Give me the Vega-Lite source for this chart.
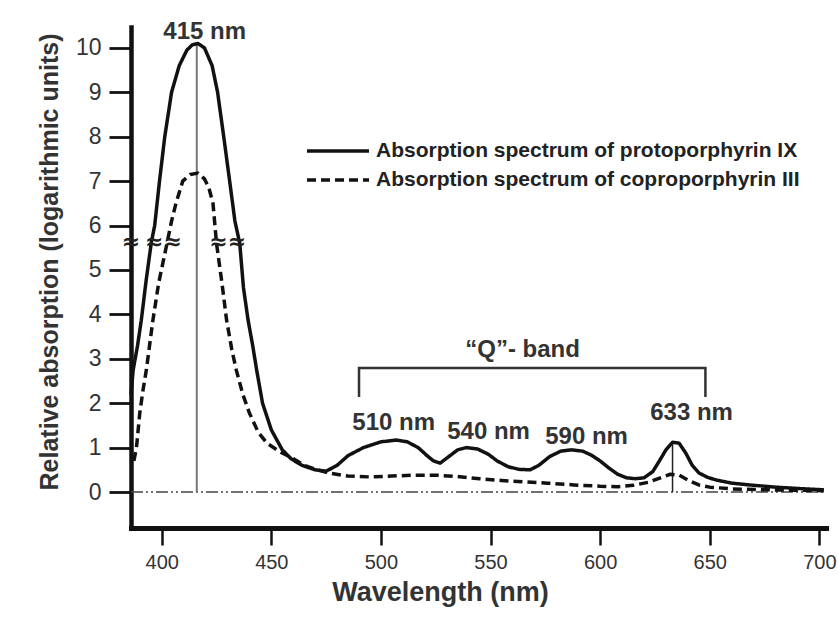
{
  "$schema": "https://vega.github.io/schema/vega-lite/v6.json",
  "width": 695,
  "height": 501,
  "autosize": {"type": "none"},
  "padding": {"left": 131, "top": 27, "right": 12, "bottom": 99},
  "background": "white",
  "config": {
    "view": {"stroke": null},
    "font": "Liberation Sans",
    "legend": {
      "orient": "none",
      "legendX": 174,
      "legendY": 113,
      "padding": 0,
      "symbolType": "stroke",
      "symbolSize": 3844,
      "symbolStrokeWidth": 3.5,
      "symbolStrokeColor": "#111",
      "labelFont": "Liberation Sans",
      "labelFontWeight": "bold",
      "labelFontSize": 21,
      "labelColor": "#222",
      "labelLimit": 800,
      "labelOffset": 5,
      "clipHeight": 22,
      "rowPadding": 7
    }
  },
  "datasets": {
    "spectra": [
      {"s": "Absorption spectrum of protoporphyrin IX", "nm": 386, "v": 2.2},
      {"s": "Absorption spectrum of protoporphyrin IX", "nm": 387, "v": 2.75},
      {"s": "Absorption spectrum of protoporphyrin IX", "nm": 389, "v": 3.3},
      {"s": "Absorption spectrum of protoporphyrin IX", "nm": 390.7, "v": 3.87},
      {"s": "Absorption spectrum of protoporphyrin IX", "nm": 393, "v": 4.8},
      {"s": "Absorption spectrum of protoporphyrin IX", "nm": 395.3, "v": 5.63},
      {"s": "Absorption spectrum of protoporphyrin IX", "nm": 396.8, "v": 6.0},
      {"s": "Absorption spectrum of protoporphyrin IX", "nm": 399, "v": 7.0},
      {"s": "Absorption spectrum of protoporphyrin IX", "nm": 401.4, "v": 8.0},
      {"s": "Absorption spectrum of protoporphyrin IX", "nm": 404.5, "v": 9.0},
      {"s": "Absorption spectrum of protoporphyrin IX", "nm": 408, "v": 9.6},
      {"s": "Absorption spectrum of protoporphyrin IX", "nm": 411.5, "v": 9.95},
      {"s": "Absorption spectrum of protoporphyrin IX", "nm": 414, "v": 10.07},
      {"s": "Absorption spectrum of protoporphyrin IX", "nm": 416.5, "v": 10.1},
      {"s": "Absorption spectrum of protoporphyrin IX", "nm": 419.5, "v": 10.0},
      {"s": "Absorption spectrum of protoporphyrin IX", "nm": 423, "v": 9.6},
      {"s": "Absorption spectrum of protoporphyrin IX", "nm": 425.5, "v": 9.0},
      {"s": "Absorption spectrum of protoporphyrin IX", "nm": 428.3, "v": 8.0},
      {"s": "Absorption spectrum of protoporphyrin IX", "nm": 431, "v": 7.0},
      {"s": "Absorption spectrum of protoporphyrin IX", "nm": 433.4, "v": 6.1},
      {"s": "Absorption spectrum of protoporphyrin IX", "nm": 435.6, "v": 5.6},
      {"s": "Absorption spectrum of protoporphyrin IX", "nm": 437.3, "v": 4.6},
      {"s": "Absorption spectrum of protoporphyrin IX", "nm": 439.4, "v": 3.87},
      {"s": "Absorption spectrum of protoporphyrin IX", "nm": 441.5, "v": 3.3},
      {"s": "Absorption spectrum of protoporphyrin IX", "nm": 443.3, "v": 2.75},
      {"s": "Absorption spectrum of protoporphyrin IX", "nm": 446, "v": 2.0},
      {"s": "Absorption spectrum of protoporphyrin IX", "nm": 450, "v": 1.4},
      {"s": "Absorption spectrum of protoporphyrin IX", "nm": 455, "v": 0.95},
      {"s": "Absorption spectrum of protoporphyrin IX", "nm": 459, "v": 0.75},
      {"s": "Absorption spectrum of protoporphyrin IX", "nm": 464, "v": 0.6},
      {"s": "Absorption spectrum of protoporphyrin IX", "nm": 470, "v": 0.5},
      {"s": "Absorption spectrum of protoporphyrin IX", "nm": 475, "v": 0.47},
      {"s": "Absorption spectrum of protoporphyrin IX", "nm": 480, "v": 0.6},
      {"s": "Absorption spectrum of protoporphyrin IX", "nm": 485, "v": 0.82},
      {"s": "Absorption spectrum of protoporphyrin IX", "nm": 492, "v": 1.0},
      {"s": "Absorption spectrum of protoporphyrin IX", "nm": 500, "v": 1.13},
      {"s": "Absorption spectrum of protoporphyrin IX", "nm": 507, "v": 1.17},
      {"s": "Absorption spectrum of protoporphyrin IX", "nm": 512, "v": 1.13},
      {"s": "Absorption spectrum of protoporphyrin IX", "nm": 517, "v": 1.0},
      {"s": "Absorption spectrum of protoporphyrin IX", "nm": 521, "v": 0.82},
      {"s": "Absorption spectrum of protoporphyrin IX", "nm": 524, "v": 0.7},
      {"s": "Absorption spectrum of protoporphyrin IX", "nm": 527, "v": 0.65},
      {"s": "Absorption spectrum of protoporphyrin IX", "nm": 531, "v": 0.8},
      {"s": "Absorption spectrum of protoporphyrin IX", "nm": 535, "v": 0.95},
      {"s": "Absorption spectrum of protoporphyrin IX", "nm": 539, "v": 1.0},
      {"s": "Absorption spectrum of protoporphyrin IX", "nm": 544, "v": 0.97},
      {"s": "Absorption spectrum of protoporphyrin IX", "nm": 549, "v": 0.85},
      {"s": "Absorption spectrum of protoporphyrin IX", "nm": 553, "v": 0.7},
      {"s": "Absorption spectrum of protoporphyrin IX", "nm": 558, "v": 0.57},
      {"s": "Absorption spectrum of protoporphyrin IX", "nm": 563, "v": 0.51},
      {"s": "Absorption spectrum of protoporphyrin IX", "nm": 568, "v": 0.5},
      {"s": "Absorption spectrum of protoporphyrin IX", "nm": 572, "v": 0.6},
      {"s": "Absorption spectrum of protoporphyrin IX", "nm": 577, "v": 0.8},
      {"s": "Absorption spectrum of protoporphyrin IX", "nm": 582, "v": 0.92},
      {"s": "Absorption spectrum of protoporphyrin IX", "nm": 587, "v": 0.95},
      {"s": "Absorption spectrum of protoporphyrin IX", "nm": 592, "v": 0.92},
      {"s": "Absorption spectrum of protoporphyrin IX", "nm": 596, "v": 0.83},
      {"s": "Absorption spectrum of protoporphyrin IX", "nm": 600, "v": 0.7},
      {"s": "Absorption spectrum of protoporphyrin IX", "nm": 604, "v": 0.54},
      {"s": "Absorption spectrum of protoporphyrin IX", "nm": 608, "v": 0.4},
      {"s": "Absorption spectrum of protoporphyrin IX", "nm": 612, "v": 0.32},
      {"s": "Absorption spectrum of protoporphyrin IX", "nm": 616, "v": 0.3},
      {"s": "Absorption spectrum of protoporphyrin IX", "nm": 620, "v": 0.32},
      {"s": "Absorption spectrum of protoporphyrin IX", "nm": 624, "v": 0.46},
      {"s": "Absorption spectrum of protoporphyrin IX", "nm": 627, "v": 0.7},
      {"s": "Absorption spectrum of protoporphyrin IX", "nm": 630, "v": 0.95},
      {"s": "Absorption spectrum of protoporphyrin IX", "nm": 633, "v": 1.12},
      {"s": "Absorption spectrum of protoporphyrin IX", "nm": 636, "v": 1.1},
      {"s": "Absorption spectrum of protoporphyrin IX", "nm": 639, "v": 0.88},
      {"s": "Absorption spectrum of protoporphyrin IX", "nm": 642, "v": 0.6},
      {"s": "Absorption spectrum of protoporphyrin IX", "nm": 645, "v": 0.43},
      {"s": "Absorption spectrum of protoporphyrin IX", "nm": 649, "v": 0.33},
      {"s": "Absorption spectrum of protoporphyrin IX", "nm": 653, "v": 0.27},
      {"s": "Absorption spectrum of protoporphyrin IX", "nm": 660, "v": 0.2},
      {"s": "Absorption spectrum of protoporphyrin IX", "nm": 668, "v": 0.16},
      {"s": "Absorption spectrum of protoporphyrin IX", "nm": 680, "v": 0.11},
      {"s": "Absorption spectrum of protoporphyrin IX", "nm": 690, "v": 0.08},
      {"s": "Absorption spectrum of protoporphyrin IX", "nm": 702, "v": 0.05},
      {"s": "Absorption spectrum of coproporphyrin III", "nm": 387.3, "v": 0.7},
      {"s": "Absorption spectrum of coproporphyrin III", "nm": 388.5, "v": 1.0},
      {"s": "Absorption spectrum of coproporphyrin III", "nm": 390, "v": 1.78},
      {"s": "Absorption spectrum of coproporphyrin III", "nm": 391.5, "v": 2.3},
      {"s": "Absorption spectrum of coproporphyrin III", "nm": 393, "v": 2.75},
      {"s": "Absorption spectrum of coproporphyrin III", "nm": 396, "v": 3.87},
      {"s": "Absorption spectrum of coproporphyrin III", "nm": 398.6, "v": 4.7},
      {"s": "Absorption spectrum of coproporphyrin III", "nm": 402, "v": 5.5},
      {"s": "Absorption spectrum of coproporphyrin III", "nm": 404.5, "v": 6.1},
      {"s": "Absorption spectrum of coproporphyrin III", "nm": 406.5, "v": 6.5},
      {"s": "Absorption spectrum of coproporphyrin III", "nm": 409.6, "v": 7.0},
      {"s": "Absorption spectrum of coproporphyrin III", "nm": 413, "v": 7.15},
      {"s": "Absorption spectrum of coproporphyrin III", "nm": 416.5, "v": 7.18},
      {"s": "Absorption spectrum of coproporphyrin III", "nm": 419.5, "v": 7.05},
      {"s": "Absorption spectrum of coproporphyrin III", "nm": 421.5, "v": 6.85},
      {"s": "Absorption spectrum of coproporphyrin III", "nm": 423.4, "v": 6.5},
      {"s": "Absorption spectrum of coproporphyrin III", "nm": 425, "v": 5.6},
      {"s": "Absorption spectrum of coproporphyrin III", "nm": 427.5, "v": 4.7},
      {"s": "Absorption spectrum of coproporphyrin III", "nm": 429.6, "v": 3.87},
      {"s": "Absorption spectrum of coproporphyrin III", "nm": 432, "v": 3.2},
      {"s": "Absorption spectrum of coproporphyrin III", "nm": 434, "v": 2.75},
      {"s": "Absorption spectrum of coproporphyrin III", "nm": 437, "v": 2.2},
      {"s": "Absorption spectrum of coproporphyrin III", "nm": 440, "v": 1.78},
      {"s": "Absorption spectrum of coproporphyrin III", "nm": 444, "v": 1.35},
      {"s": "Absorption spectrum of coproporphyrin III", "nm": 448, "v": 1.1},
      {"s": "Absorption spectrum of coproporphyrin III", "nm": 454, "v": 0.9},
      {"s": "Absorption spectrum of coproporphyrin III", "nm": 459, "v": 0.78},
      {"s": "Absorption spectrum of coproporphyrin III", "nm": 465, "v": 0.6},
      {"s": "Absorption spectrum of coproporphyrin III", "nm": 471, "v": 0.5},
      {"s": "Absorption spectrum of coproporphyrin III", "nm": 477, "v": 0.42},
      {"s": "Absorption spectrum of coproporphyrin III", "nm": 485, "v": 0.36},
      {"s": "Absorption spectrum of coproporphyrin III", "nm": 495, "v": 0.34},
      {"s": "Absorption spectrum of coproporphyrin III", "nm": 505, "v": 0.36},
      {"s": "Absorption spectrum of coproporphyrin III", "nm": 515, "v": 0.38},
      {"s": "Absorption spectrum of coproporphyrin III", "nm": 525, "v": 0.38},
      {"s": "Absorption spectrum of coproporphyrin III", "nm": 535, "v": 0.35},
      {"s": "Absorption spectrum of coproporphyrin III", "nm": 545, "v": 0.3},
      {"s": "Absorption spectrum of coproporphyrin III", "nm": 555, "v": 0.26},
      {"s": "Absorption spectrum of coproporphyrin III", "nm": 565, "v": 0.23},
      {"s": "Absorption spectrum of coproporphyrin III", "nm": 576, "v": 0.2},
      {"s": "Absorption spectrum of coproporphyrin III", "nm": 588, "v": 0.16},
      {"s": "Absorption spectrum of coproporphyrin III", "nm": 600, "v": 0.13},
      {"s": "Absorption spectrum of coproporphyrin III", "nm": 608, "v": 0.12},
      {"s": "Absorption spectrum of coproporphyrin III", "nm": 615, "v": 0.15},
      {"s": "Absorption spectrum of coproporphyrin III", "nm": 622, "v": 0.22},
      {"s": "Absorption spectrum of coproporphyrin III", "nm": 628, "v": 0.33},
      {"s": "Absorption spectrum of coproporphyrin III", "nm": 632, "v": 0.4},
      {"s": "Absorption spectrum of coproporphyrin III", "nm": 636, "v": 0.38},
      {"s": "Absorption spectrum of coproporphyrin III", "nm": 640, "v": 0.27},
      {"s": "Absorption spectrum of coproporphyrin III", "nm": 645, "v": 0.16},
      {"s": "Absorption spectrum of coproporphyrin III", "nm": 650, "v": 0.11},
      {"s": "Absorption spectrum of coproporphyrin III", "nm": 660, "v": 0.07},
      {"s": "Absorption spectrum of coproporphyrin III", "nm": 675, "v": 0.05},
      {"s": "Absorption spectrum of coproporphyrin III", "nm": 690, "v": 0.04},
      {"s": "Absorption spectrum of coproporphyrin III", "nm": 702, "v": 0.03}
    ],
    "baseline": [{"nm": 386, "v": 0}, {"nm": 702, "v": 0}],
    "markers": [
      {"kind": "Soret peak", "nm": 416, "y0": 0, "y1": 10.1},
      {"kind": "Q IV peak", "nm": 633, "y0": 0, "y1": 1.12}
    ],
    "bracket": [
      {"i": 1, "nm": 490, "v": 2.14},
      {"i": 2, "nm": 490, "v": 2.79},
      {"i": 3, "nm": 648, "v": 2.79},
      {"i": 4, "nm": 648, "v": 2.14}
    ],
    "labels": [
      {"t": "415 nm", "nm": 419.6, "v": 10.36},
      {"t": "510 nm", "nm": 505.8, "v": 1.55},
      {"t": "540 nm", "nm": 549.1, "v": 1.35},
      {"t": "590 nm", "nm": 593.8, "v": 1.24},
      {"t": "633 nm", "nm": 641.7, "v": 1.78},
      {"t": "“Q”- band", "nm": 564.6, "v": 3.2}
    ],
    "breaks": [
      {"t": "≈", "nm": 386, "v": 5.63},
      {"t": "≈≈", "nm": 400.8, "v": 5.63},
      {"t": "≈≈", "nm": 430.1, "v": 5.63}
    ]
  },
  "encoding": {
    "x": {
      "field": "nm",
      "type": "quantitative",
      "scale": {"domain": [386, 703], "nice": false, "zero": false},
      "axis": {
        "values": [400, 450, 500, 550, 600, 650, 700],
        "grid": false,
        "domainColor": "#111",
        "domainWidth": 5,
        "domainCap": "square",
        "tickColor": "#111",
        "tickWidth": 2.5,
        "tickSize": 17,
        "labelFont": "Liberation Sans",
        "labelFontSize": 20,
        "labelColor": "#333",
        "labelPadding": 7,
        "title": "Wavelength (nm)",
        "titleFont": "Liberation Sans",
        "titleFontSize": 27,
        "titleFontWeight": "bold",
        "titleColor": "#333",
        "titleX": 309,
        "titleY": 72,
        "titleBaseline": "alphabetic"
      }
    },
    "y": {
      "field": "v",
      "type": "quantitative",
      "scale": {"domain": [-0.81, 10.47], "nice": false, "zero": false},
      "axis": {
        "values": [0, 1, 2, 3, 4, 5, 6, 7, 8, 9, 10],
        "grid": false,
        "domainColor": "#111",
        "domainWidth": 4.5,
        "domainCap": "square",
        "tickColor": "#111",
        "tickWidth": 2.8,
        "tickSize": 22,
        "labelFont": "Liberation Sans",
        "labelFontSize": 23,
        "labelColor": "#333",
        "labelPadding": 8,
        "title": "Relative absorption (logarithmic units)",
        "titleFont": "Liberation Sans",
        "titleFontSize": 25,
        "titleFontWeight": "bold",
        "titleColor": "#333",
        "titleX": -74,
        "titleY": 234.5,
        "titleAlign": "center",
        "titleBaseline": "alphabetic"
      }
    }
  },
  "layer": [
    {
      "data": {"name": "baseline"},
      "mark": {"type": "line", "color": "#444", "strokeWidth": 1.6, "strokeDash": [12, 3, 2, 3, 2, 3]},
      "encoding": {}
    },
    {
      "data": {"name": "markers"},
      "mark": {"type": "rule"},
      "encoding": {
        "y": {"field": "y0", "type": "quantitative"},
        "y2": {"field": "y1"},
        "color": {"field": "kind", "type": "nominal", "scale": {"domain": ["Soret peak", "Q IV peak"], "range": ["#777777", "#222222"]}, "legend": null},
        "strokeWidth": {"field": "kind", "type": "nominal", "scale": {"domain": ["Soret peak", "Q IV peak"], "range": [2, 1.5]}, "legend": null}
      }
    },
    {
      "data": {"name": "spectra"},
      "mark": {"type": "line", "color": "#111", "strokeWidth": 3.5, "strokeJoin": "round"},
      "encoding": {
        "strokeDash": {
          "field": "s",
          "type": "nominal",
          "scale": {
            "domain": ["Absorption spectrum of protoporphyrin IX", "Absorption spectrum of coproporphyrin III"],
            "range": [[1, 0], [9, 5]]
          },
          "legend": {"title": null}
        }
      }
    },
    {
      "data": {"name": "bracket"},
      "mark": {"type": "line", "color": "#333", "strokeWidth": 2.5},
      "encoding": {"order": {"field": "i", "type": "quantitative"}}
    },
    {
      "data": {"name": "labels"},
      "mark": {"type": "text", "font": "Liberation Sans", "fontWeight": "bold", "fontSize": 24, "color": "#333", "baseline": "middle", "align": "center"},
      "encoding": {"text": {"field": "t"}}
    },
    {
      "data": {"name": "breaks"},
      "mark": {"type": "text", "font": "DejaVu Sans", "fontSize": 22, "fontWeight": "bold", "color": "#222", "baseline": "middle", "align": "center", "letterSpacing": -3},
      "encoding": {"text": {"field": "t"}}
    }
  ]
}
